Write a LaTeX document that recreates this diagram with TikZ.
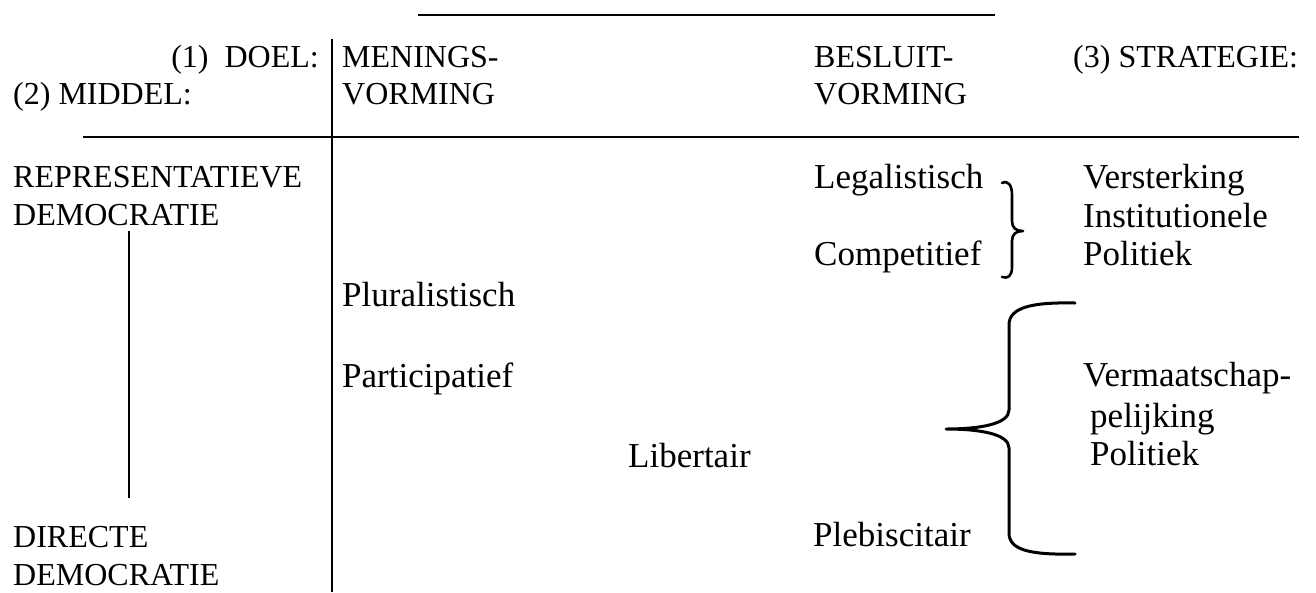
\documentclass[tikz,border=0pt]{standalone}
\usepackage{fontspec}
\setmainfont{Liberation Serif}
\begin{document}
\begin{tikzpicture}[x=1pt,y=-1pt,
  head/.style={inner sep=0pt,font=\fontsize{32}{38}\selectfont},
  body/.style={inner sep=0pt,font=\fontsize{35}{42}\selectfont},
  rule/.style={line width=2pt},
  bracket/.style={line width=3pt,line cap=round,line join=round}]
\useasboundingbox (0,0) rectangle (1316,592);
% rules
\draw[rule] (418,15) -- (995,15);
\draw[rule] (83,137) -- (1299,137);
\draw[rule] (332,39) -- (332,592);
% header
\node[head,anchor=base east] (doel) at (319,67) {(1)\hspace{0.5em}DOEL:};
\node[head,anchor=base west] (middel) at (13,104) {(2) MIDDEL:};
\node[head,anchor=base west] (men1) at (342,67) {MENINGS-};
\node[head,anchor=base west] (men2) at (342,104) {VORMING};
\node[head,anchor=base west] (bes1) at (814,67) {BESLUIT-};
\node[head,anchor=base west] (bes2) at (814,104) {VORMING};
\node[head,anchor=base west] (strat) at (1073,67) {(3) STRATEGIE:};
% left column
\node[head,anchor=base west] (rep1) at (13,187) {REPRESENTATIEVE};
\node[head,anchor=base west] (rep2) at (13,225) {DEMOCRATIE};
\node[head,anchor=base west] (dir1) at (13,547) {DIRECTE};
\node[head,anchor=base west] (dir2) at (13,585) {DEMOCRATIE};
\coordinate (s1) at (129,231);
\coordinate (s2) at (129,498);
\draw[rule] (s1) -- (s2);
% meningsvorming
\node[body,anchor=base west] (plur) at (342,306) {Pluralistisch};
\node[body,anchor=base west] (part) at (342,387) {Participatief};
\node[body,anchor=base west] (lib) at (628,467) {Libertair};
% besluitvorming
\node[body,anchor=base west] (leg) at (814,188) {Legalistisch};
\node[body,anchor=base west] (comp) at (814,265) {Competitief};
\node[body,anchor=base west] (pleb) at (813,546) {Plebiscitair};
% strategie
\node[body,anchor=base west] (v1) at (1083,188) {Versterking};
\node[body,anchor=base west] (v2) at (1083,227) {Institutionele};
\node[body,anchor=base west] (v3) at (1083,265) {Politiek};
\node[body,anchor=base west] (w1) at (1083,386) {Vermaatschap-};
\node[body,anchor=base west] (w2) at (1090,427) {pelijking};
\node[body,anchor=base west] (w3) at (1090,465) {Politiek};
% small brace
\draw[line width=2.6pt,line cap=round,line join=round]
  (1002,183) .. controls (1008,180) and (1012,185) .. (1012,195)
  -- (1012,221) .. controls (1012,228) and (1016,231) .. (1023,231)
  .. controls (1016,231) and (1012,234) .. (1012,241)
  -- (1012,267) .. controls (1012,276) and (1008,279) .. (1002,277);
% big brace
\draw[bracket]
  (1075,303) .. controls (1030,302) and (1009,308) .. (1009,325)
  -- (1009,410) .. controls (1009,424) and (980,429) .. (946,429)
  .. controls (980,429) and (1009,434) .. (1009,448)
  -- (1009,533) .. controls (1009,550) and (1030,555) .. (1075,554);
\end{tikzpicture}
\end{document}
